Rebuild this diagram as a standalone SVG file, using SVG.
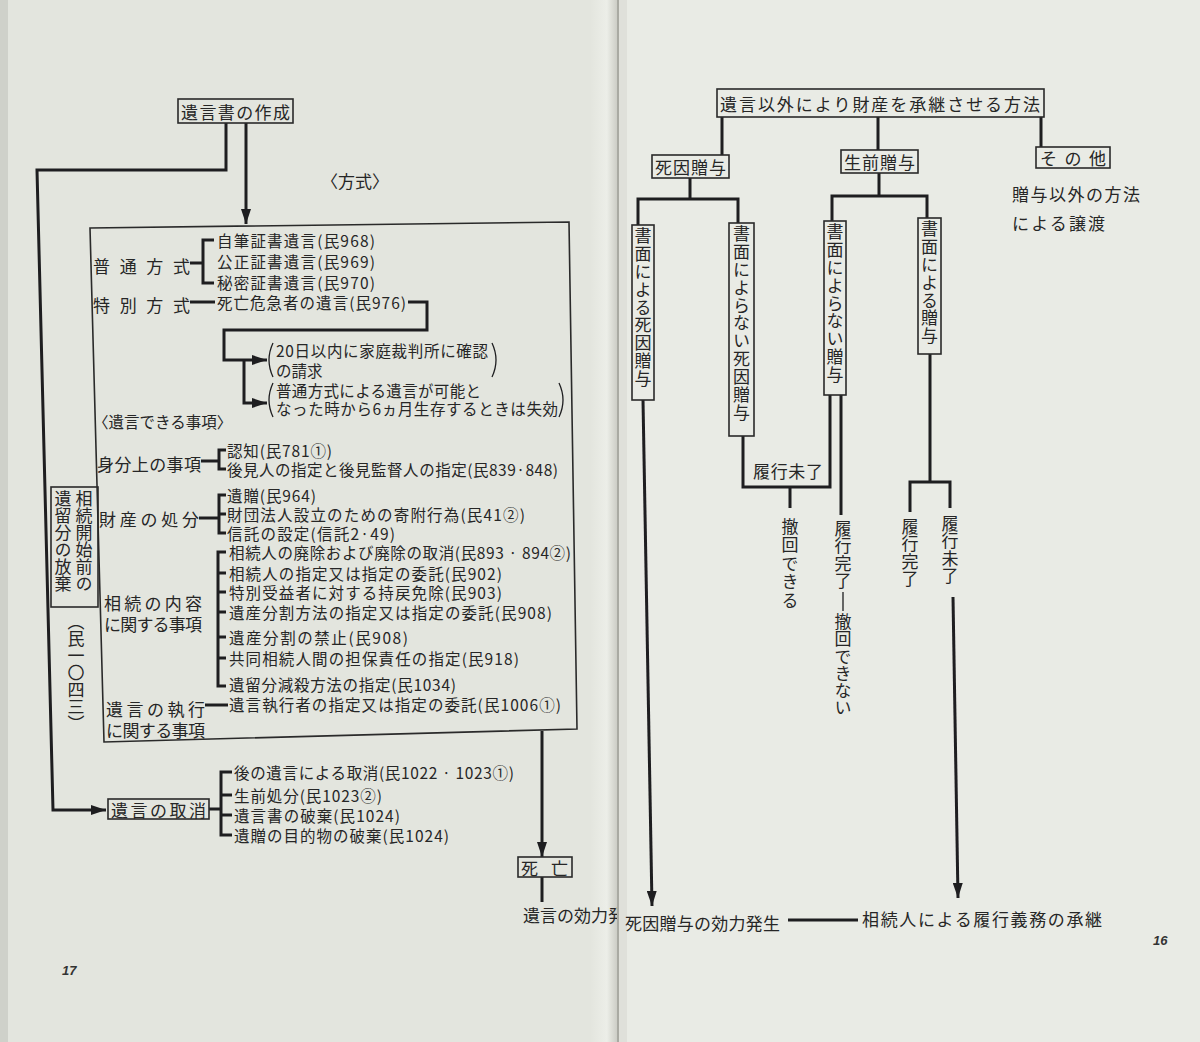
<svg xmlns="http://www.w3.org/2000/svg" width="1200" height="1042" viewBox="0 0 1200 1042">
<defs>
<style>
.t{font-family:"Noto Sans CJK JP","Noto Sans",sans-serif;fill:#262626;dominant-baseline:central;font-size:17px}
.s{font-size:15.5px}
.v{writing-mode:vertical-rl;dominant-baseline:central}
.c{stroke:#1e1e20;stroke-width:3;fill:none}
.thin{stroke:#1e1e20;stroke-width:1.3;fill:none}
.bx{stroke:#2a2a2a;stroke-width:1.6;fill:none}
.pg{font-family:"Liberation Sans",sans-serif;font-size:13px;fill:#333;font-style:italic;font-weight:bold}
</style>
<marker id="ah" markerUnits="userSpaceOnUse" markerWidth="16" markerHeight="10" refX="15" refY="5" orient="auto">
<path d="M0,0 L15,5 L0,10 Z" fill="#1e1e20"/>
</marker>
<linearGradient id="fold" x1="0" y1="0" x2="1" y2="0">
<stop offset="0" stop-color="#e3e5de"/>
<stop offset="0.6" stop-color="#eceee8"/>
<stop offset="1" stop-color="#c9cac3"/>
</linearGradient>
</defs>

<!-- pages -->
<rect x="0" y="0" width="1200" height="1042" fill="#e3e5de"/>
<rect x="0" y="0" width="8" height="1042" fill="#cfd1ca"/>
<rect x="590" y="0" width="28" height="1042" fill="url(#fold)"/>

<!-- LEFT PAGE -->
<g id="left-connectors">
<path class="c" d="M246,123 V224" marker-end="url(#ah)"/>
<path class="c" d="M226,123 V170 H37 L53,810 H106" marker-end="url(#ah)"/>
<path class="c" d="M190,263 H203 M214,240 H203 V283 H214"/>
<path class="c" d="M190,302 H215"/>
<path class="c" d="M408,302 H427 V330 H224 V360 H267" marker-end="url(#ah)"/>
<path class="c" d="M244,360 V403 H267" marker-end="url(#ah)"/>
<path class="thin" d="M273,343 Q265,360 273,377 M492,343 Q500,360 492,377 M273,383 Q265,400 273,417 M559,383 Q567,400 559,417"/>
<path class="c" d="M201,461 H219 M226,450 H219 V469 H226"/>
<path class="c" d="M199,518 H219 M226,495 H219 V533 H226 M219,514 H226"/>
<path class="c" d="M226,552 H218 V686 H226 M218,573 H226 M218,592 H226 M218,612 H226 M218,637 H226 M218,658 H226"/>
<path class="c" d="M205,705 H228"/>
<path class="c" d="M542,731 V857" marker-end="url(#ah)"/>
<path class="c" d="M542,877 V902"/>
<path class="c" d="M209,809 H221 M232,772 H221 V835 H232 M221,795 H232 M221,815 H232"/>
</g>

<g id="n-sakusei">
<rect class="bx" x="178" y="99" width="115" height="24"/>
<text class="t" x="181" y="111" font-size="19" textLength="109">遺言書の作成</text>
</g>
<text class="t" x="321" y="180" font-size="16">〈方式〉</text>

<g id="n-main-box">
<path class="bx" d="M90,228 L569,222 L577,729 L104,742 Z"/>
<g id="n-futsuu">
<text class="t" x="93" y="265" font-size="16" textLength="97">普通方式</text>
<text class="t s" x="217" y="240" textLength="158">自筆証書遺言(民968)</text>
<text class="t s" x="217" y="261" textLength="158">公正証書遺言(民969)</text>
<text class="t s" x="217" y="282" textLength="158">秘密証書遺言(民970)</text>
</g>
<g id="n-tokubetsu">
<text class="t" x="93" y="304" font-size="16" textLength="97">特別方式</text>
<text class="t s" x="217" y="302" textLength="189">死亡危急者の遺言(民976)</text>
<text class="t s" x="276" y="350" textLength="212">20日以内に家庭裁判所に確認</text>
<text class="t s" x="276" y="370">の請求</text>
<text class="t s" x="276" y="390" textLength="205">普通方式による遺言が可能と</text>
<text class="t s" x="276" y="408" textLength="282">なった時から6ヵ月生存するときは失効</text>
</g>
<text class="t s" x="93" y="421">〈遺言できる事項〉</text>
<g id="n-mibun">
<text class="t" x="97" y="463" font-size="16" textLength="104">身分上の事項</text>
<text class="t s" x="227" y="450" textLength="105">認知(民781①)</text>
<text class="t s" x="227" y="469" textLength="331">後見人の指定と後見監督人の指定(民839·848)</text>
</g>
<g id="n-zaisan">
<text class="t" x="99" y="518" font-size="16" textLength="100">財産の処分</text>
<text class="t s" x="227" y="495" textLength="89">遺贈(民964)</text>
<text class="t s" x="227" y="514" textLength="298">財団法人設立のための寄附行為(民41②)</text>
<text class="t s" x="227" y="533" textLength="168">信託の設定(信託2·49)</text>
</g>
<g id="n-souzoku">
<text class="t" x="104" y="602" font-size="16" textLength="98">相続の内容</text>
<text class="t" x="104" y="623" font-size="16" textLength="98">に関する事項</text>
<text class="t s" x="229" y="552" textLength="342">相続人の廃除および廃除の取消(民893 · 894②)</text>
<text class="t s" x="229" y="573" textLength="273">相続人の指定又は指定の委託(民902)</text>
<text class="t s" x="229" y="592" textLength="273">特別受益者に対する持戻免除(民903)</text>
<text class="t s" x="229" y="612" textLength="323">遺産分割方法の指定又は指定の委託(民908)</text>
<text class="t s" x="229" y="637" textLength="179">遺産分割の禁止(民908)</text>
<text class="t s" x="229" y="658" textLength="290">共同相続人間の担保責任の指定(民918)</text>
<text class="t s" x="229" y="684" textLength="227">遺留分減殺方法の指定(民1034)</text>
</g>
<g id="n-shikkou">
<text class="t" x="106" y="708" font-size="16" textLength="99">遺言の執行</text>
<text class="t" x="106" y="729" font-size="16" textLength="99">に関する事項</text>
<text class="t s" x="229" y="704" textLength="332">遺言執行者の指定又は指定の委託(民1006①)</text>
</g>
</g>

<g id="n-houki">
<rect class="bx" x="51" y="487" width="47" height="120"/>
<text class="t v" x="84" y="490" font-size="18.5">相続開始前の</text>
<text class="t v" x="63" y="490" font-size="18.5">遺留分の放棄</text>
<text class="t v" x="76" y="613" font-size="15.5">（民一〇四三）</text>
</g>

<g id="n-torikeshi">
<rect class="bx" x="108" y="799" width="101" height="20"/>
<text class="t" x="111" y="809" font-size="16.5" textLength="95">遺言の取消</text>
<text class="t s" x="234" y="772" textLength="280">後の遺言による取消(民1022 · 1023①)</text>
<text class="t s" x="234" y="795" textLength="148">生前処分(民1023②)</text>
<text class="t s" x="234" y="815" textLength="166">遺言書の破棄(民1024)</text>
<text class="t s" x="234" y="835" textLength="215">遺贈の目的物の破棄(民1024)</text>
</g>

<g id="n-shibou">
<rect class="bx" x="518" y="857" width="54" height="20"/>
<text class="t" x="521" y="867" font-size="16" textLength="47">死亡</text>
<text class="t" x="523" y="914" font-size="15.5">遺言の効力発生</text>
</g>
<text class="pg" x="62" y="975">17</text>

<!-- RIGHT PAGE -->
<rect x="618" y="0" width="582" height="1042" fill="#e9ebe5"/>
<rect x="617" y="0" width="2" height="1042" fill="#a9aaa3"/>
<rect x="619" y="0" width="8" height="1042" fill="#dfe0da"/>

<g id="right-connectors">
<path class="c" d="M722,117 V155 M878,117 V150 M1041,117 V147"/>
<path class="c" d="M690,178 V199 M638,225 V199 H738 V223"/>
<path class="c" d="M879,173 V196 M832,221 V196 H927 V218"/>
<path class="c" d="M643,400 L652,906" marker-end="url(#ah)"/>
<path class="c" d="M743,436 V487 H830 V395 M790,487 V508 M841,395 V515"/>
<path class="thin" d="M843,592 V611"/>
<path class="c" d="M930,354 V482 M910,512 V482 H950 V508"/>
<path class="c" d="M953,597 L958,898" marker-end="url(#ah)"/>
<path class="c" d="M788,920 H858"/>
</g>

<g id="n-top">
<rect class="bx" x="717" y="89" width="327" height="28"/>
<text class="t" x="720" y="103" font-size="19" textLength="320">遺言以外により財産を承継させる方法</text>
</g>
<g id="n-shiin">
<rect class="bx" x="652" y="155" width="77" height="23"/>
<text class="t" x="655" y="166.5" font-size="18" textLength="71">死因贈与</text>
</g>
<g id="n-seizen">
<rect class="bx" x="841" y="150" width="77" height="23"/>
<text class="t" x="844" y="161.5" font-size="18" textLength="71">生前贈与</text>
</g>
<g id="n-sonota">
<rect class="bx" x="1036" y="147" width="74" height="21"/>
<text class="t" x="1040" y="157.5" textLength="66">その他</text>
<text class="t" x="1012" y="193" font-size="18" textLength="128">贈与以外の方法</text>
<text class="t" x="1012" y="222" font-size="18" textLength="93">による譲渡</text>
</g>
<g id="n-b1">
<rect class="bx" x="632" y="225" width="22" height="175"/>
<text class="t v" x="643" y="227" font-size="18.5" letter-spacing="0.9">書面による死因贈与</text>
</g>
<g id="n-b2">
<rect class="bx" x="729" y="223" width="25" height="213"/>
<text class="t v" x="741.5" y="225" font-size="18.5" letter-spacing="0.9">書面によらない死因贈与</text>
</g>
<g id="n-b3">
<rect class="bx" x="824" y="221" width="22" height="174"/>
<text class="t v" x="835" y="223" font-size="18.5" letter-spacing="0.9">書面によらない贈与</text>
</g>
<g id="n-b4">
<rect class="bx" x="918" y="218" width="23" height="136"/>
<text class="t v" x="929.5" y="220" font-size="18.5" letter-spacing="0.9">書面による贈与</text>
</g>
<g id="n-labels">
<text class="t" x="753" y="470" textLength="70">履行未了</text>
<text class="t v" x="790" y="518" letter-spacing="1.4">撤回できる</text>
<text class="t v" x="843" y="520" letter-spacing="0.5">履行完了</text>
<text class="t v" x="843" y="613" letter-spacing="0.3">撤回できない</text>
<text class="t v" x="910" y="518" letter-spacing="0.5">履行完了</text>
<text class="t v" x="950" y="515" letter-spacing="0.5">履行未了</text>
</g>
<g id="n-bottom">
<text class="t" x="625" y="922" textLength="155">死因贈与の効力発生</text>
<text class="t" x="862" y="918" font-size="18" textLength="240">相続人による履行義務の承継</text>
</g>
<text class="pg" x="1153" y="945">16</text>
</svg>
